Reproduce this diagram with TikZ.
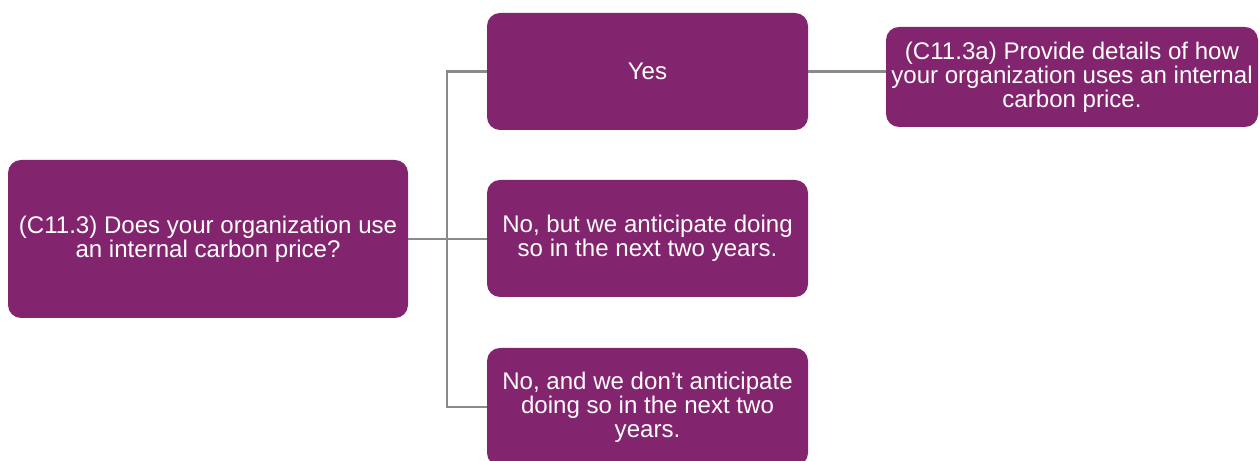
\documentclass[tikz,border=0pt]{standalone}
\usepackage{fontspec}
\setmainfont{Liberation Sans}
\usepackage{xcolor}
\usepackage{tikz}
\usetikzlibrary{positioning,calc}
\definecolor{cdppurple}{HTML}{83246F}
\definecolor{linkgray}{HTML}{8A8A8A}

\begin{document}
\begin{tikzpicture}[
        qbox/.style={fill=cdppurple, draw=none, rounded corners=0.26cm, text=white,
            align=center, inner sep=0pt, font=\fontsize{13.7}{13.7}\selectfont},
        link/.style={draw=linkgray, line width=1.6pt}
    ]
        \useasboundingbox (0,0) rectangle (25.2,9.22);

        % Question
        \node[qbox, minimum width=8cm, minimum height=3.16cm] (question) at (4.16,4.44)
            {(C11.3) Does your organization use\\an internal carbon price?};

        % Answers
        \node[qbox, minimum width=6.42cm, minimum height=2.34cm] (yes) at (12.95,7.79) {Yes};
        \node[qbox, minimum width=6.42cm, minimum height=2.34cm] (nobut) at (12.95,4.45)
            {No, but we anticipate doing\\so in the next two years.};
        \node[qbox, minimum width=6.42cm, minimum height=2.36cm] (noand) at (12.95,1.08)
            {No, and we don't anticipate\\doing so in the next two\\years.};

        % Follow-up question
        \node[qbox, minimum width=7.44cm, minimum height=2.0cm] (details) at (21.44,7.68)
            {(C11.3a) Provide details of how\\your organization uses an internal\\carbon price.};

        % Connectors
        \coordinate (trunk) at (8.94,4.44);
        \draw[link] (question.east) -- (question.east -| nobut.west);
        \draw[link] (yes.west) -- (yes.west -| trunk) |- (noand.west);
        \draw[link] (yes.east) -- (yes.east -| details.west);
    \end{tikzpicture}
\end{document}
